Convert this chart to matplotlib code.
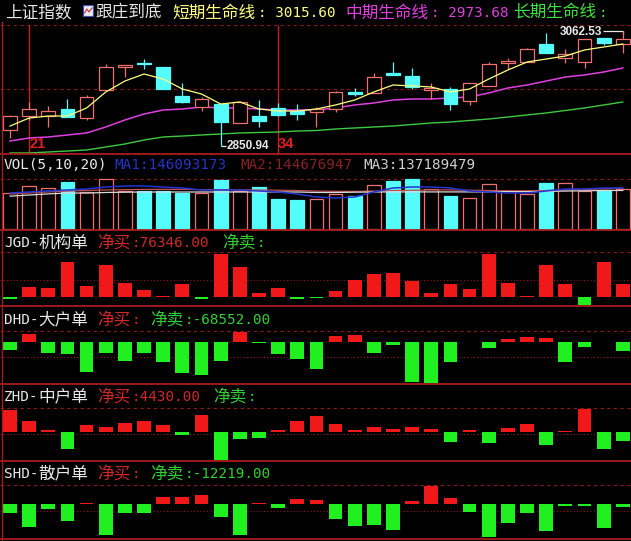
import matplotlib
matplotlib.use("Agg")
import matplotlib.pyplot as plt
from matplotlib.patches import Rectangle
from matplotlib.lines import Line2D

W, H = 631, 541

# ---- values (33 trading days) ----
opens = [2880.4, 2906.7, 2906.1, 2919.0, 2902.5, 2954.0, 2996.3, 3003.5, 2996.3, 2943.0,
         2922.7, 2928.2, 2893.3, 2906.1, 2920.9, 2915.3, 2913.5, 2919.0, 2950.3, 2948.5,
         2985.3, 2979.7, 2954.0, 2955.8, 2933.7, 2961.4, 3003.7, 3005.5, 3038.6, 3012.9,
         3005.5, 3049.7, 3038.6]
highs = [2908.0, 2931.9, 2924.5, 2937.4, 2944.8, 3001.8, 3000.5, 3011.0, 2997.0, 2966.9,
         2941.1, 2928.4, 2933.7, 2935.6, 2930.1, 2928.2, 2922.7, 2952.2, 2957.7, 2985.3,
         3005.5, 2994.5, 2966.9, 2959.5, 2966.9, 3005.5, 3012.9, 3031.3, 3058.9, 3029.4,
         3047.8, 3049.7, 3062.53]
lows = [2865.7, 2898.8, 2885.9, 2904.3, 2898.8, 2954.0, 2977.9, 2992.6, 2955.0, 2930.1,
        2915.3, 2850.94, 2893.3, 2885.9, 2906.0, 2898.8, 2885.9, 2913.5, 2942.9, 2948.5,
        2981.6, 2955.8, 2937.4, 2917.2, 2926.4, 2961.4, 2992.6, 3005.5, 3022.1, 3003.7,
        2994.5, 3036.8, 3022.1]
closes = [2906.1, 2918.5, 2915.3, 2904.3, 2941.1, 2996.3, 2999.9, 3002.5, 2955.8, 2931.9,
          2937.4, 2895.1, 2931.9, 2896.9, 2908.0, 2909.8, 2919.0, 2950.3, 2946.6, 2977.9,
          2981.6, 2959.5, 2957.7, 2928.2, 2966.9, 3001.8, 3007.4, 3029.4, 3022.1, 3020.2,
          3047.8, 3040.5, 3047.8]

ma_short = [2887.7, 2902.4, 2906.1, 2906.1, 2920.9, 2950.3, 2970.5, 2983.4, 2974.2, 2955.8,
            2946.6, 2928.2, 2931.9, 2919.0, 2915.3, 2915.3, 2919.0, 2926.4, 2935.6, 2950.3,
            2963.2, 2961.4, 2959.5, 2950.3, 2955.8, 2974.2, 2990.8, 3005.5, 3011.0, 3016.5,
            3027.6, 3033.1, 3038.6]
ma_mid = [2860.1, 2865.7, 2867.5, 2871.2, 2874.9, 2885.9, 2898.8, 2909.8, 2917.2, 2919.0,
          2922.7, 2920.9, 2920.9, 2919.0, 2917.2, 2917.2, 2917.2, 2920.9, 2926.4, 2930.1,
          2935.6, 2937.4, 2937.4, 2939.3, 2941.1, 2948.5, 2957.7, 2963.2, 2970.5, 2977.9,
          2981.6, 2987.1, 2994.5]
ma_long = [2838.1, 2838.1, 2839.9, 2841.7, 2843.6, 2849.1, 2854.6, 2862.0, 2867.5, 2869.3,
           2871.2, 2873.0, 2874.9, 2875.8, 2876.7, 2878.5, 2879.4, 2882.2, 2884.1, 2885.9,
           2887.7, 2890.5, 2893.3, 2895.1, 2897.9, 2900.6, 2904.3, 2908.0, 2911.7, 2916.3,
           2920.9, 2926.4, 2931.9]

# volume in millions
volume = [127, 153, 146, 167, 132, 178, 135, 135, 135, 128, 128, 174, 135, 150, 107, 103,
          107, 125, 117, 157, 171, 178, 142, 117, 110, 160, 135, 125, 164, 164, 135, 139, 142]
vol_ma1 = [128.2, 131.7, 135.3, 138.8, 142.4, 149.5, 153.1, 153.1, 149.5, 146.0, 138.8,
           138.8, 138.8, 135.3, 131.7, 124.6, 113.9, 110.4, 113.9, 131.7, 146.0, 149.5,
           149.5, 146.0, 135.3, 131.7, 128.2, 128.2, 135.3, 142.4, 142.4, 146.0, 146.09]
vol_ma2 = [125, 128, 132, 135, 137, 139, 140, 141, 141, 141, 140, 140, 139, 139, 138, 137,
           135, 134, 134, 135, 137, 138, 139, 139, 138, 137, 136, 136, 137, 139, 141, 143, 144.68]
vol_ma3 = [117, 121, 125, 128, 128, 130, 131, 131.7, 131.7, 131.7, 131.7, 131.7, 131.7,
           131.7, 131.7, 131.7, 130, 130, 131, 131.7, 132, 132, 132, 132, 132, 132, 133,
           133, 134, 135, 136, 137, 137.19]

jgd = [-11700, 58700, 52900, 199700, 64600, 182100, 82200, 41100, 5000, 76300, -14700,
       246700, 170300, 23500, 52900, -14700, -5900, 35200, 99800, 135100, 141000, 94000,
       23500, 76300, 47000, 246700, 82200, 3000, 182100, 76300, -47000, 199700, 76346]
dhd = [-60900, 60900, -83800, -91400, -228500, -83800, -144700, -83800, -152300, -236100,
       -251400, -144700, 76200, -7600, -91400, -129500, -205700, 45700, 53300, -83800,
       -22900, -304700, -312300, -152300, -3800, -45700, 22900, 38100, 30500, -152300,
       -38100, -3800, -68552]
zhd = [97500, 48700, 8900, -75300, 31000, 22200, 39900, 48700, 31000, -13300, 75300,
       -124000, -31000, -26600, 8900, 48700, 70900, 35400, 8900, 22200, 13300, 22200,
       13300, -44300, 8900, -48700, 17700, 35400, -57600, 4400, 101900, -75300, -39900]
shd = [-36700, -93700, -20400, -69200, 4100, -126300, -36700, -36700, 28500, 28500, 36700,
       -52900, -126300, 4100, -16300, 20400, 16300, -61100, -89600, -85500, -105900, 12200,
       73300, 24400, -32600, -134400, -77400, -36700, -110000, -8100, -8100, -97800, -12219]

# ---- colours ----
BG = "black"
WHITE = "#E8E8E8"
YELLOW = "#FFFF80"
MAGENTA = "#E040E0"
LGREEN = "#40E040"
CYAN = "#54FCFC"
CANDLE_RED = "#F07070"
BAR_RED = "#F01818"
BAR_GREEN = "#20F020"
TXT_RED = "#D02828"
BORDER = "#A81C1C"
GRID = "#8C1A1A"

STEP = 19.15
X0, X1 = -10 / STEP, (W - 10) / STEP
BW = 0.72
xs = list(range(len(opens)))

fig = plt.figure(figsize=(W / 100, H / 100), dpi=100, facecolor=BG)


def panel(top, bottom, ylim):
    ax = fig.add_axes([0, 1 - bottom / H, 1, (bottom - top) / H])
    ax.axis("off")
    ax.set_xlim(X0, X1)
    ax.set_ylim(*ylim)
    return ax


def grid(ax, y, dotted=False):
    ax.axhline(y, color=GRID, lw=0.8, ls=(0, (1, 2)) if dotted else (0, (3, 3)), zorder=0)


def label(x, y, text, color):
    # split into CJK / ASCII runs so each uses its own font and width
    runs = []
    for ch in text:
        cjk = ord(ch) > 0x2E80
        if runs and runs[-1][1] == cjk:
            runs[-1][0] += ch
        else:
            runs.append([ch, cjk])
    for run, cjk in runs:
        fig.text(x / W, 1 - y / H, run, color=color, va="center", ha="left",
                 fontsize=12 if cjk else 10.3,
                 family="Noto Sans CJK SC" if cjk else "DejaVu Sans Mono")
        x += len(run) * (17.2 if cjk else 8.6)


# ---- main price panel ----
ax = panel(0, 154, (2836.2, 3119.6))
grid(ax, 3073.6)
grid(ax, 2955.8)
ax.vlines([1, 14], 2836.2, 3073.6, color="#C82020", lw=1.0, zorder=1)

for i in xs:
    o, h, l, c = opens[i], highs[i], lows[i], closes[i]
    lo, hi = min(o, c), max(o, c)
    if c >= o:
        col = CANDLE_RED
        ax.add_patch(Rectangle((i - BW / 2, lo), BW, max(hi - lo, 0.6), facecolor=BG,
                               edgecolor=col, lw=0.9, zorder=3))
    else:
        col = CYAN
        ax.add_patch(Rectangle((i - BW / 2, lo), BW, max(hi - lo, 0.6), facecolor=col,
                               edgecolor=col, lw=0.9, zorder=3))
    ax.vlines(i, hi, h, color=col, lw=0.9, zorder=3)
    ax.vlines(i, l, lo, color=col, lw=0.9, zorder=3)

ax.plot(xs, ma_long, color="#40C840", lw=1.0, zorder=2)
ax.plot(xs, ma_mid, color=MAGENTA, lw=1.1, zorder=2)
ax.plot(xs, ma_short, color=YELLOW, lw=0.9, zorder=4)

ax.text(1.0, 2855, "21", color="#E02020", fontsize=10.5, fontweight="bold",
        family="Liberation Sans", va="center", ha="left")
ax.text(14.0, 2855, "34", color="#E02020", fontsize=10.5, fontweight="bold",
        family="Liberation Sans", va="center", ha="left")

low_i = lows.index(min(lows))
ax.hlines(min(lows), low_i, low_i + 0.3, color=WHITE, lw=0.9)
ax.text(low_i + 0.33, min(lows), f"{min(lows):.2f}", color=WHITE, fontsize=8.5,
        fontweight="bold", family="Liberation Sans", va="center", ha="left")
high_i = highs.index(max(highs))
ax.hlines(max(highs), high_i - 1.05, high_i, color=WHITE, lw=0.9)
ax.vlines(high_i, max(highs) - 5, max(highs), color=WHITE, lw=0.9)
ax.text(high_i - 1.1, max(highs) - 1.5, f"{max(highs):.2f}", color=WHITE, fontsize=8.5,
        fontweight="bold", family="Liberation Sans", va="center", ha="right")

label(5, 13, "上证指数", WHITE)
fig.patches.append(Rectangle((83 / W, 1 - 16 / H), 10 / W, 11 / H, transform=fig.transFigure,
                             facecolor="#E8E8F0", edgecolor="#4050B0", lw=0.8))
fig.add_artist(Line2D([84.5 / W, 87 / W, 89 / W, 92 / W],
                      [1 - 13 / H, 1 - 9 / H, 1 - 12 / H, 1 - 8 / H], color="#D03030", lw=0.8))
label(95, 13, "跟庄到底", WHITE)
label(172, 13, "短期生命线: 3015.60", YELLOW)
label(345, 13, "中期生命线: 2973.68", MAGENTA)
label(513, 13, "长期生命线:", LGREEN)

# ---- volume panel ----
axv = panel(154, 230, (-3.56, 267))
grid(axv, 178)
for i in xs:
    if closes[i] >= opens[i]:
        axv.add_patch(Rectangle((i - BW / 2, 0), BW, volume[i], facecolor=BG,
                                edgecolor=CANDLE_RED, lw=0.9, zorder=2))
    else:
        axv.add_patch(Rectangle((i - BW / 2, 0), BW, volume[i], facecolor=CYAN,
                                edgecolor=CYAN, lw=0.9, zorder=2))
axv.plot(xs, vol_ma2, color="#C05050", lw=0.9, zorder=3)
axv.plot(xs, vol_ma3, color="#D8D8D8", lw=0.9, zorder=3)
axv.plot(xs, vol_ma1, color="#2434D0", lw=1.1, zorder=3)
label(4, 165, "VOL(5,10,20)", WHITE)
label(114, 165, "MA1:146093173", "#2434C8")
label(240, 165, "MA2:144676947", "#8A2020")
label(363, 165, "MA3:137189479", "#D0D0D0")


# ---- money-flow panels ----
def flow_panel(top, bottom, ylim, vals, grids, y_title, name, buy, sell, sell_x):
    a = panel(top, bottom, ylim)
    grid(a, grids[0])
    grid(a, grids[1], dotted=True)
    a.bar(xs, vals, width=BW, color=[BAR_RED if v > 0 else BAR_GREEN for v in vals],
          linewidth=0, zorder=2)
    label(4, y_title, name, WHITE)
    label(97, y_title, "净买:" + buy, TXT_RED)
    label(sell_x, y_title, "净卖:" + sell, "#30D030")
    return a


flow_panel(230, 306, (-52900, 387600), jgd, (258400, 99800), 243,
           "JGD-机构单", "76346.00", "", 222)
flow_panel(306, 384, (-319900, 274200), dhd, (83800, -114300), 320,
           "DHD-大户单", "", "-68552.00", 150)
flow_panel(384, 461, (-128500, 212600), zhd, (106300, -8860), 397,
           "ZHD-中户单", "4430.00", "", 213)
flow_panel(461, 541, (-150700, 175100), shd, (77400, -28500), 474,
           "SHD-散户单", "", "-12219.00", 150)

# ---- panel borders ----
for yb in [154, 230, 306, 384, 461, 539]:
    fig.add_artist(Line2D([0, 1], [1 - yb / H, 1 - yb / H], color=BORDER, lw=1.3))
fig.add_artist(Line2D([2 / W, 2 / W], [0, 1 - 22 / H], color=BORDER, lw=1.0))

fig.savefig("out.png", dpi=100, facecolor=BG)
